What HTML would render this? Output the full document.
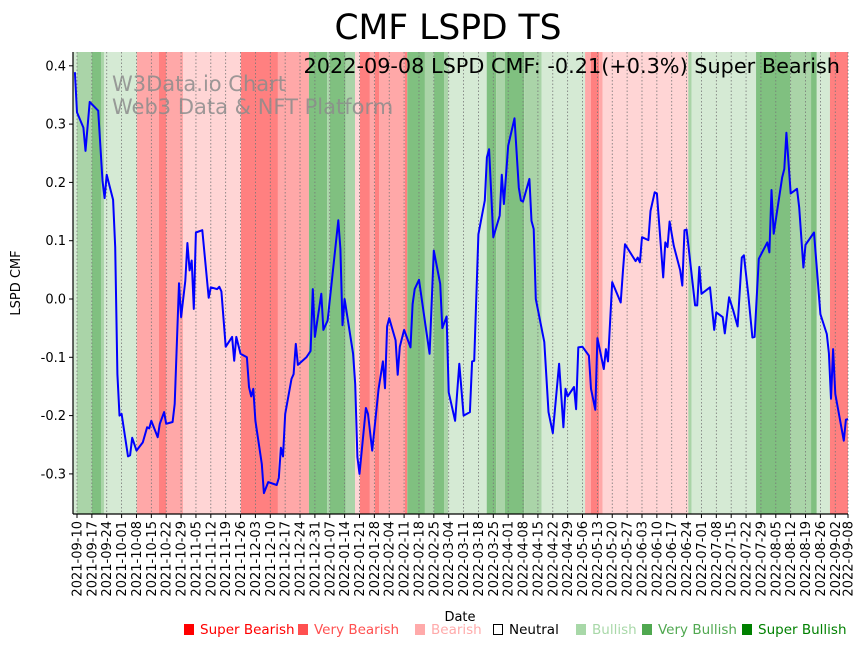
<!DOCTYPE html>
<html><head><meta charset="utf-8"><style>
html,body{margin:0;padding:0;background:#fff;}
svg{display:block;font-family:"DejaVu Sans","Liberation Sans",sans-serif;}
</style></head><body>
<svg id="chart" width="867" height="646" viewBox="0 0 867 646">
<text x="448" y="39" font-size="34.5" text-anchor="middle">CMF LSPD TS</text>
<g id="bands"></g>
<g id="grid"></g>
<text x="112" y="91" font-size="21" fill="#8c8c8c" fill-opacity="0.85">W3Data.io Chart</text>
<text x="112" y="114" font-size="21" fill="#8c8c8c" fill-opacity="0.85">Web3 Data &amp; NFT Platform</text>
<g id="series"></g>
<text x="840" y="73" font-size="20.8" text-anchor="end">2022-09-08 LSPD CMF: -0.21(+0.3%) Super Bearish</text>
<g id="axes"></g>
<text x="20" y="283" font-size="13" text-anchor="middle" transform="rotate(-90 20 283)">LSPD CMF</text>
<text x="460" y="621" font-size="13" text-anchor="middle">Date</text>
<g id="legend" font-size="13.5"></g>
</svg>
<script>
const days = [-1,0,3,4,6,10,12,13,14,17,18,19,20,21,24,25,26,28,31,33,34,35,38,39,41,42,45,46,48,49,51,52,53,54,55,56,59,62,63,66,67,68,70,73,74,75,77,80,81,82,83,84,87,88,90,94,95,96,97,98,101,102,103,104,108,110,111,112,115,116,118,123,124,125,126,130,131,132,133,136,137,139,142,144,145,146,147,150,151,152,154,157,158,159,161,164,166,168,171,172,174,175,178,180,182,185,186,187,189,192,193,194,196,199,200,201,203,206,208,209,210,213,214,215,216,220,222,224,227,229,230,231,234,235,236,238,241,242,244,245,248,249,250,252,256,257,258,263,264,265,266,269,270,272,273,276,277,278,279,281,284,285,286,287,291,292,293,294,298,300,301,304,305,307,309,311,313,314,316,318,319,321,325,326,327,328,332,333,334,336,339,340,342,343,347,350,353,354,355,356,357,361,362,363];
const cmf = [0.389,0.32,0.294,0.254,0.338,0.323,0.203,0.173,0.213,0.17,0.089,-0.129,-0.2,-0.197,-0.27,-0.268,-0.238,-0.26,-0.246,-0.22,-0.222,-0.209,-0.237,-0.214,-0.194,-0.214,-0.211,-0.18,0.027,-0.031,0.031,0.096,0.049,0.066,-0.017,0.114,0.118,0.002,0.02,0.017,0.021,0.013,-0.082,-0.065,-0.106,-0.065,-0.094,-0.1,-0.151,-0.167,-0.154,-0.209,-0.283,-0.333,-0.314,-0.319,-0.307,-0.255,-0.27,-0.197,-0.137,-0.129,-0.077,-0.113,-0.1,-0.089,0.017,-0.065,0.009,-0.053,-0.037,0.135,0.086,-0.045,0,-0.094,-0.146,-0.271,-0.3,-0.187,-0.197,-0.26,-0.154,-0.107,-0.153,-0.047,-0.033,-0.071,-0.13,-0.082,-0.053,-0.083,-0.009,0.017,0.033,-0.043,-0.094,0.083,0.026,-0.05,-0.03,-0.16,-0.209,-0.111,-0.2,-0.194,-0.107,-0.106,0.111,0.169,0.243,0.257,0.106,0.143,0.213,0.163,0.263,0.31,0.191,0.169,0.167,0.206,0.134,0.12,0,-0.074,-0.194,-0.23,-0.111,-0.22,-0.154,-0.167,-0.151,-0.189,-0.083,-0.082,-0.097,-0.154,-0.19,-0.067,-0.12,-0.086,-0.107,0.029,-0.006,0.047,0.094,0.065,0.071,0.063,0.106,0.101,0.151,0.183,0.181,0.037,0.097,0.089,0.133,0.091,0.049,0.023,0.118,0.119,-0.011,-0.011,0.055,0.009,0.02,-0.053,-0.023,-0.031,-0.059,0.003,-0.02,-0.047,0.071,0.075,0.009,-0.066,-0.065,0.069,0.097,0.08,0.187,0.112,0.209,0.223,0.285,0.181,0.189,0.157,0.054,0.093,0.114,-0.026,-0.06,-0.093,-0.171,-0.086,-0.163,-0.243,-0.207,-0.206];
const bandStart = [-2,0,7,11.3,12.7,28.2,38.6,41.9,49.9,77.2,94.6,109.2,117.8,119.1,126.5,130.9,133.2,137.9,140.3,142.2,154.4,155.5,163.8,168.1,172.8,174.8,192.9,197.3,201.5,210.5,218.8,239.2,242,245.8,247.5,287.8,289.4,319.7,335.7,345.6,348.3,354.5];
const bandEnd   = [0,7,11.3,12.7,28.2,38.6,41.9,49.9,77.2,94.6,109.2,117.8,119.1,126.5,130.9,133.2,137.9,140.3,142.2,154.4,155.5,163.8,168.1,172.8,174.8,192.9,197.3,201.5,210.5,218.8,239.2,242,245.8,247.5,287.8,289.4,319.7,335.7,345.6,348.3,354.5,364];
const bandType  = ['bull','vbull','sbull','vbull','bull','vbear','sbear','vbear','bear','sbear','vbear','sbull','vbull','sbull','vbull','bear','sbear','vbear','sbear','vbear','sbear','sbull','vbull','sbull','vbull','bull','sbull','vbull','sbull','vbull','bull','vbear','sbear','vbear','bear','vbull','bull','sbull','vbull','sbull','bull','sbear'];
const yTicks = [0.4,0.3,0.2,0.1,0.0,-0.1,-0.2,-0.3];
const legendLabels = ['Super Bearish','Very Bearish','Bearish','Neutral','Bullish','Very Bullish','Super Bullish'];

const NS='http://www.w3.org/2000/svg';
const L=73,R=848,T=52,B=514;
const X=d=>77+d*2.124;
const Y=v=>299-v*583;
const fill={sbear:'#ff8080',vbear:'#ffa8a8',bear:'#ffd5d5',bull:'#d5ead4',vbull:'#aad4a8',sbull:'#80c080'};
function mk(tag,attrs,parent){const e=document.createElementNS(NS,tag);for(const k in attrs)e.setAttribute(k,attrs[k]);parent.appendChild(e);return e;}

const gb=document.getElementById('bands');
bandStart.forEach((s,i)=>{
  const x0=Math.max(L,X(s)),x1=Math.min(R,X(bandEnd[i]));
  const r=mk('rect',{x:x0,y:T,width:Math.max(0,x1-x0),height:B-T,fill:fill[bandType[i]]},gb);
  
  
});

const gg=document.getElementById('grid'), ga=document.getElementById('axes');
const start=new Date(Date.UTC(2021,8,10));
const tickDays=[];for(let d=0;d<=357;d+=7)tickDays.push(d);tickDays.push(363);
tickDays.forEach(d=>{
  const x=X(d);
  const g=mk('line',{x1:x,x2:x,y1:T,y2:B,stroke:'#777','stroke-width':0.8,'stroke-dasharray':'1.5,2'},gg);
  
  
  mk('line',{x1:x,x2:x,y1:B,y2:B+4,stroke:'#000','stroke-width':1},ga);
  const dt=new Date(start.getTime()+d*86400000);
  const lab=dt.toISOString().slice(0,10);
  const t=mk('text',{x:x+4.5,y:B+7,'font-size':13,'text-anchor':'end',transform:`rotate(-90 ${x+4.5} ${B+7})`},ga);
  t.textContent=lab;
  
  
});
yTicks.forEach(v=>{
  const y=Y(v);
  mk('line',{x1:L-4,x2:L,y1:y,y2:y,stroke:'#000'},ga);
  const t=mk('text',{x:L-7,y:y+4.5,'font-size':13,'text-anchor':'end'},ga);
  t.textContent=v.toFixed(1);
  
  
});
mk('line',{x1:L,x2:L,y1:T,y2:B,stroke:'#000','stroke-width':1.2},ga);
mk('line',{x1:L,x2:R,y1:B,y2:B,stroke:'#000','stroke-width':1.2},ga);

const gs=document.getElementById('series');
const p=mk('polyline',{points:days.map((d,i)=>X(d).toFixed(1)+','+Y(cmf[i]).toFixed(1)).join(' '),fill:'none',stroke:'#0000ff','stroke-width':2,'stroke-linejoin':'round'},gs);



const gl=document.getElementById('legend');
const lx=[183,297,414,492,575,641,741];
const lc=['#ff0000','#ff5050','#ffaaaa','#000000','#a8d8a8','#50a850','#008000'];
legendLabels.forEach((s,i)=>{
  const g=mk('g',{},gl);
  
  
  if(i===3) mk('rect',{x:lx[i]+1.5,y:624.5,width:9,height:10,fill:'none',stroke:'#000','stroke-width':1},g);
  else mk('rect',{x:lx[i]+1,y:624,width:10,height:11,fill:lc[i]},g);
  const t=mk('text',{x:lx[i]+17,y:634,fill:lc[i]},g);
  t.textContent=s;
});
</script>
</body></html>
